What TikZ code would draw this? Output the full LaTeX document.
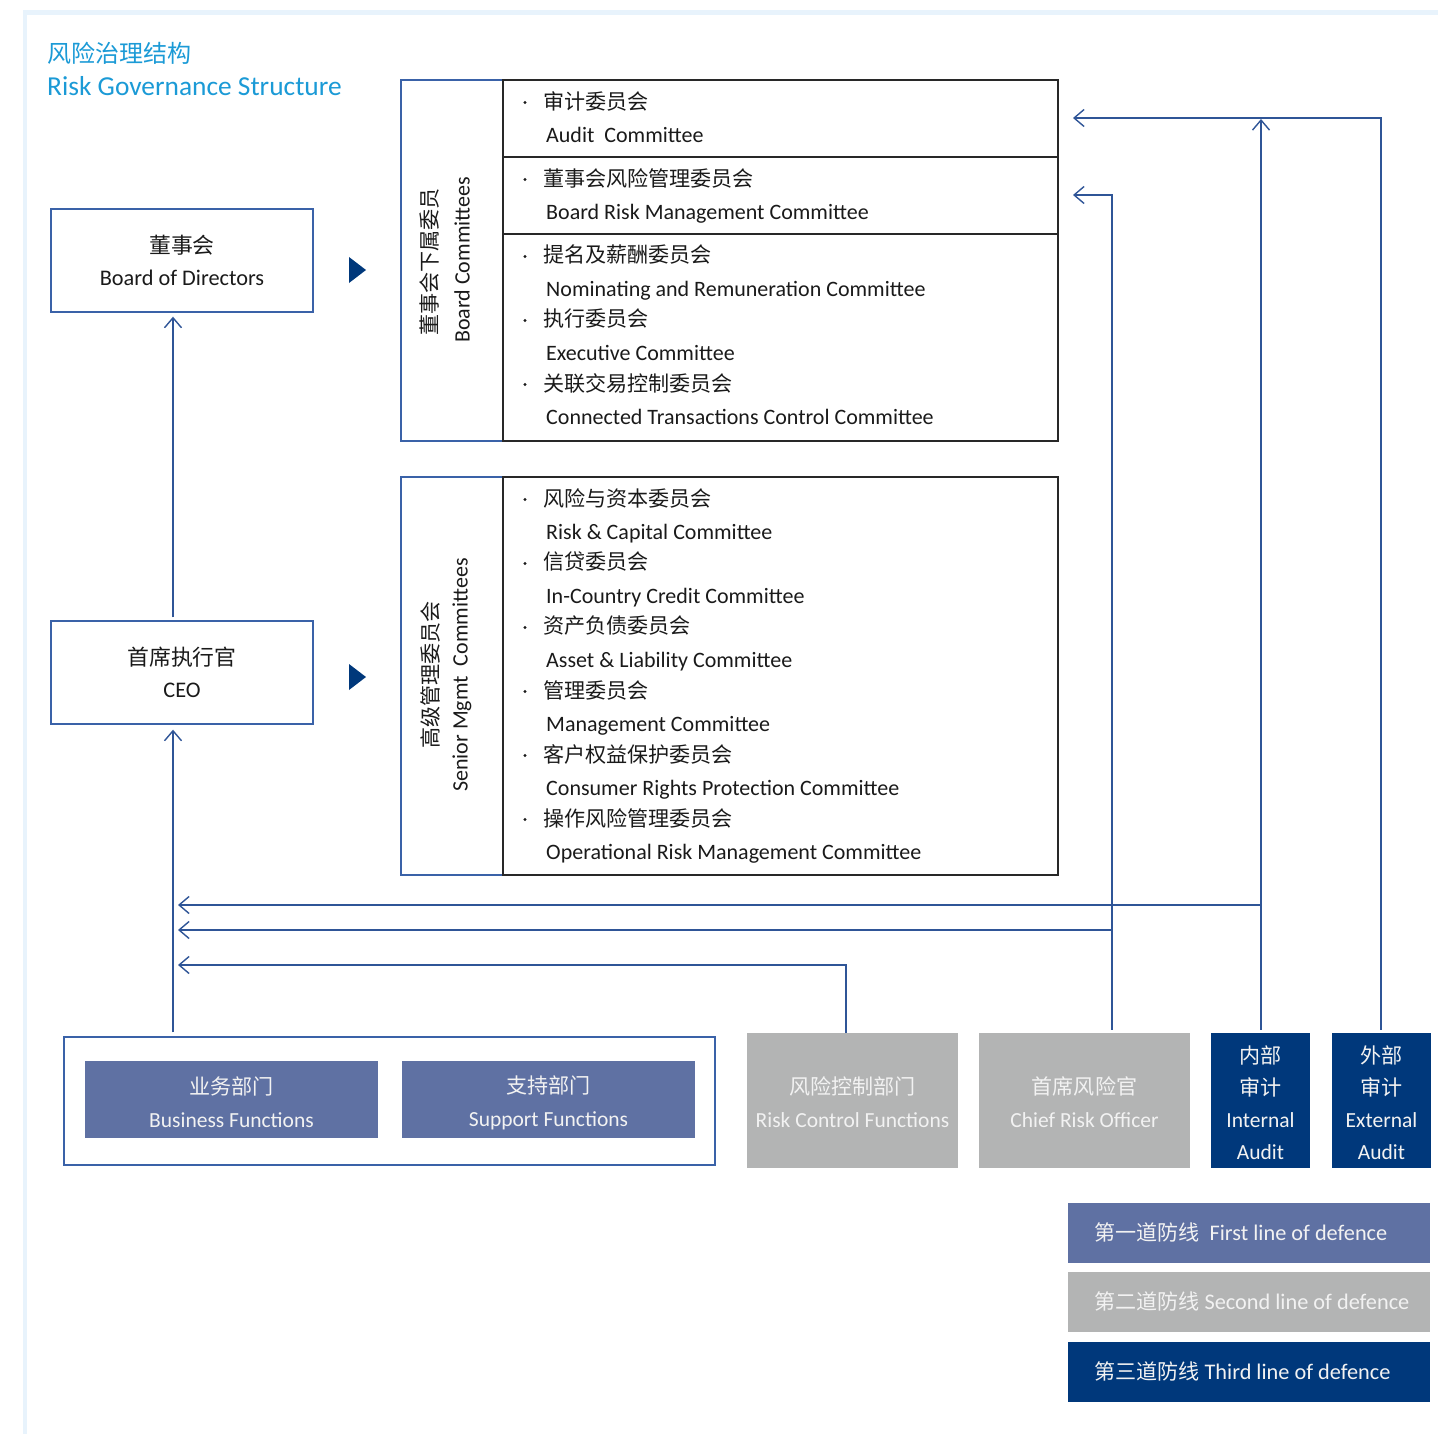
\documentclass[tikz,border=0pt]{standalone}
\usepackage{fontspec}
\setmainfont{Carlito}
\newfontfamily\cjk{Noto Sans CJK SC}[Scale=0.98]
\usetikzlibrary{arrows.meta}
\definecolor{lnblue}{RGB}{47,85,151}
\definecolor{bxblue}{RGB}{58,98,168}
\definecolor{dark}{RGB}{40,40,40}
\definecolor{navy}{RGB}{0,56,123}
\definecolor{slate}{RGB}{95,113,163}
\definecolor{lgray}{RGB}{179,180,180}
\definecolor{ttblue}{RGB}{27,154,214}
\definecolor{frame}{RGB}{232,243,252}
\definecolor{wtext}{RGB}{242,242,242}
\definecolor{btext}{RGB}{26,26,26}
\tikzset{
  txt/.style={font=\fontsize{22}{33}\selectfont, text=btext, inner sep=0pt},
  bul/.style={circle, fill=btext, inner sep=0pt, minimum size=3.4pt},
  wtxt/.style={font=\fontsize{21.5}{33}\selectfont, text=wtext, align=center, inner sep=0pt},
  bluebox/.style={draw=bxblue, line width=1.4pt, inner sep=0pt, align=center, font=\fontsize{22.3}{32}\selectfont, text=btext},
  darkbox/.style={draw=dark, line width=1.4pt, inner sep=0pt},
  fillbox/.style={fill=#1, inner sep=0pt},
  arr/.style={draw=lnblue, line width=1.4pt, -{Straight Barb[length=10pt,width=17pt]}}
}
\begin{document}
\begin{tikzpicture}[x=1pt,y=-1pt]
\useasboundingbox (0,0) rectangle (1438,1434);
\fill[frame] (23,10) rectangle (1438,15);
\fill[frame] (23,10) rectangle (27,1434);

% title
\node[anchor=west, inner sep=0pt, text=ttblue, font=\fontsize{24.5}{24}\selectfont\cjk] (t1) at (47,53) {风险治理结构};
\node[anchor=west, inner sep=0pt, text=ttblue, font=\fontsize{27.4}{27}\selectfont] (t2) at (47,86) {Risk Governance Structure};

% left boxes
\node[bluebox, minimum width=262pt, minimum height=103pt] (board) at (182,260.5) {{\cjk 董事会}\\Board of Directors};
\node[bluebox, minimum width=262pt, minimum height=103pt] (ceo) at (182,672.5) {{\cjk 首席执行官}\\CEO};

% triangles
\fill[navy] (349,257) -- (366,270) -- (349,283) -- cycle;
\fill[navy] (349,664) -- (366,677) -- (349,690) -- cycle;

% board committees
\node[bluebox, minimum width=102pt, minimum height=361pt] (bcl) at (452,260.5) {};
\node[darkbox, minimum width=555pt, minimum height=361pt] (bcr) at (780.5,260.5) {};
\draw[dark, line width=1.4pt] (bcr.west |- 0,157) -- (bcr.east |- 0,157);
\draw[dark, line width=1.4pt] (bcr.west |- 0,234) -- (bcr.east |- 0,234);
\node[txt, rotate=90, font=\fontsize{21.5}{33}\selectfont\cjk] (bcv1) at (430,262) {董事会下属委员};
\node[txt, rotate=90] (bcv2) at (462,260) {Board Committees};

\foreach \ya/\ca/\ea [count=\i] in {101/审计委员会/Audit\ \ Committee,
  178/董事会风险管理委员会/Board Risk Management Committee,
  255/提名及薪酬委员会/Nominating and Remuneration Committee,
  319/执行委员会/Executive Committee,
  383/关联交易控制委员会/Connected Transactions Control Committee}{
  \node[bul] (bb\i) at (525,\ya+1.5) {};
  \node[txt, anchor=west, font=\fontsize{21.5}{33}\selectfont\cjk] (bz\i) at (543,\ya) {\ca};
  \node[txt, anchor=base west] (be\i) at (546,\ya+33+8.5) {\ea};
}

% senior committees
\node[bluebox, minimum width=102pt, minimum height=398pt] (scl) at (452,676) {};
\node[darkbox, minimum width=555pt, minimum height=398pt] (scr) at (780.5,676) {};
\node[txt, rotate=90, font=\fontsize{21.5}{33}\selectfont\cjk] (scv1) at (430,675) {高级管理委员会};
\node[txt, rotate=90] (scv2) at (462,675) {Senior Mgmt\ \ Committees};

\foreach \ya/\ca/\ea [count=\i] in {498/风险与资本委员会/Risk \& Capital Committee,
  562/信贷委员会/In-Country Credit Committee,
  626/资产负债委员会/Asset \& Liability Committee,
  690/管理委员会/Management Committee,
  754/客户权益保护委员会/Consumer Rights Protection Committee,
  818/操作风险管理委员会/Operational Risk Management Committee}{
  \node[bul] (sb\i) at (525,\ya+1.5) {};
  \node[txt, anchor=west, font=\fontsize{21.5}{33}\selectfont\cjk] (sz\i) at (543,\ya) {\ca};
  \node[txt, anchor=base west] (se\i) at (546,\ya+33+8.5) {\ea};
}

% bottom boxes
\node[draw=bxblue, line width=1.4pt, minimum width=651pt, minimum height=128pt, inner sep=0pt] (grp) at (389.5,1101) {};
\node[fillbox=slate, minimum width=293pt, minimum height=77pt] (bus) at (231.5,1099.5) {};
\node[wtxt] (bust) at (231.5,1102.5) {{\cjk 业务部门}\\Business Functions};
\node[fillbox=slate, minimum width=293pt, minimum height=77pt] (sup) at (548.5,1099.5) {};
\node[wtxt] (supt) at (548.5,1102.5) {{\cjk 支持部门}\\Support Functions};
\node[fillbox=lgray, minimum width=211pt, minimum height=135pt] (rc) at (852.5,1100.5) {};
\node[wtxt] (rct) at (852.5,1102.5) {{\cjk 风险控制部门}\\Risk Control Functions};
\node[fillbox=lgray, minimum width=211pt, minimum height=135pt] (cro) at (1084.5,1100.5) {};
\node[wtxt] (crot) at (1084.5,1102.5) {{\cjk 首席风险官}\\Chief Risk Officer};
\node[fillbox=navy, minimum width=99pt, minimum height=135pt] (ia) at (1260.5,1100.5) {};
\node[wtxt, font=\fontsize{21.5}{32}\selectfont] (iat) at (1260.5,1102.5) {{\cjk 内部}\\{\cjk 审计}\\Internal\\Audit};
\node[fillbox=navy, minimum width=99pt, minimum height=135pt] (ea) at (1381.5,1100.5) {};
\node[wtxt, font=\fontsize{21.5}{32}\selectfont] (eat) at (1381.5,1102.5) {{\cjk 外部}\\{\cjk 审计}\\External\\Audit};

% legend
\node[fillbox=slate, minimum width=362pt, minimum height=60pt] (lg1) at (1249,1233) {};
\node[fillbox=lgray, minimum width=362pt, minimum height=60pt] (lg2) at (1249,1302) {};
\node[fillbox=navy, minimum width=362pt, minimum height=60pt] (lg3) at (1249,1372) {};
\node[wtxt, anchor=west, font=\fontsize{22.3}{33}\selectfont] (lt1) at (1094,1232) {{\cjk\fontsize{21.5}{33}\selectfont 第一道防线}\ \ First line of defence};
\node[wtxt, anchor=west, font=\fontsize{22.3}{33}\selectfont] (lt2) at (1094,1301) {{\cjk\fontsize{21.5}{33}\selectfont 第二道防线} Second line of defence};
\node[wtxt, anchor=west, font=\fontsize{22.3}{33}\selectfont] (lt3) at (1094,1371) {{\cjk\fontsize{21.5}{33}\selectfont 第三道防线} Third line of defence};

% connectors
\coordinate (t905) at (178,905);
\coordinate (t930) at (178,930);
\coordinate (t965) at (178,965);
\coordinate (tAud) at (1073,118);
\coordinate (tBrm) at (1073,195);

\draw[arr, shorten <=3pt, shorten >=4pt] ([xshift=-9pt]ceo.north) -- ([xshift=-9pt]board.south);
\draw[arr, shorten <=4pt, shorten >=5pt] ([xshift=-9pt]ceo.south |- grp.north) -- ([xshift=-9pt]ceo.south);
\draw[arr] ([xshift=-6.5pt]rc.north) |- (t965);
\draw[arr, shorten <=3pt] ([xshift=27.5pt]cro.north) |- (tBrm);
\draw[arr] ([xshift=27.5pt]cro.north |- t930) -- (t930);
\draw[arr, shorten <=3pt, shorten >=1pt] ([xshift=0.5pt]ia.north) -- ([xshift=0.5pt]ia.north |- tAud);
\draw[arr] ([xshift=0.5pt]ia.north |- t905) -- (t905);
\draw[arr, shorten <=3pt] ([xshift=-0.5pt]ea.north) |- (tAud);
\end{tikzpicture}
\end{document}
